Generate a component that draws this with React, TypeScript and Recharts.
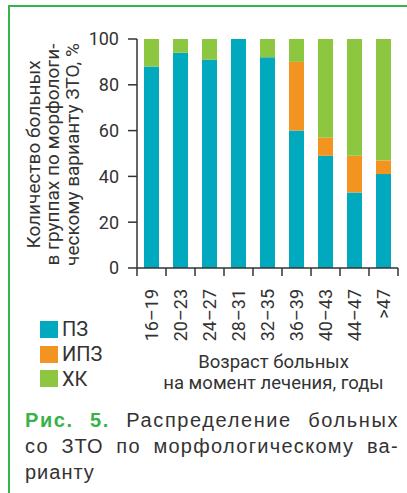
import { BarChart, Bar, XAxis, YAxis, Legend } from "recharts"

const categories = ["16–19", "20–23", "24–27", "28–31", "32–35", "36–39", "40–43", "44–47", ">47"]
const pz = [88, 94, 91, 100, 92, 60, 49, 33, 41]
const ipz = [0, 0, 0, 0, 0, 30, 8, 16, 6]
const hk = [12, 6, 9, 0, 8, 10, 43, 51, 53]
const yTicks = [0, 20, 40, 60, 80, 100]
const edgeTicks = [0, 1, 2, 3, 4, 5, 6, 7, 8, 9]

const seriesNames = ["ПЗ", "ИПЗ", "ХК"]
const yTitle = ["Количество больных", "в группах по морфологи-", "ческому варианту ЗТО, %"]
const xTitle = ["Возраст больных", "на момент лечения, годы"]

const data = categories.map((c, i) => ({ age: c, idx: i, pz: pz[i], ipz: ipz[i], hk: hk[i] }))

const FONT = "Roboto, 'Liberation Sans', sans-serif"
const TEXT = "#333"
const AXIS = "#333"
const GREEN = "#37b34a"

function AgeTick({ x, y, payload }: any) {
  return (
    <text transform={`translate(${x},${y + 13}) rotate(-90)`} textAnchor="end" dy="0.36em"
      fontSize={18} fill={TEXT} fontFamily={FONT}>
      {payload.value}
    </text>
  )
}

function YTitle({ viewBox }: any) {
  const cy = viewBox.y + viewBox.height / 2 + 1
  return (
    <g fontSize={19} fill={TEXT} fontFamily={FONT}>
      {yTitle.map((t, i) => (
        <text key={i} transform={`translate(${39.5 + i * 19.5},${cy}) rotate(-90)`} textAnchor="middle">{t}</text>
      ))}
    </g>
  )
}

function XTitle({ viewBox }: any) {
  const cx = viewBox.x + viewBox.width / 2 + 6
  return (
    <g fontSize={18.5} fill={TEXT} fontFamily={FONT} textAnchor="middle">
      {xTitle.map((t, i) => (
        <text key={i} x={cx} y={268 + 99.5 + i * 21}>{t}</text>
      ))}
    </g>
  )
}

function LegendBox({ payload }: any) {
  const items = [...(payload || [])].sort((a: any, b: any) => seriesNames.indexOf(a.value) - seriesNames.indexOf(b.value))
  return (
    <div style={{ fontFamily: FONT, fontSize: 20, color: TEXT }}>
      {items.map((p: any, i: number) => (
        <div key={i} style={{ display: "flex", alignItems: "center", height: 24.7 }}>
          <span style={{ width: 18, height: 17, background: p.color, marginRight: 4 }} />
          <span>{p.value}</span>
        </div>
      ))}
    </div>
  )
}

export default function App() {
  return (
    <div style={{ position: "absolute", left: 0, top: 0, width: 407, height: 493, background: "#fff", overflow: "hidden" }}>
      <div style={{ position: "absolute", left: 8, top: 5, width: 420, height: 500, borderTop: `2px solid ${GREEN}`, borderLeft: `2px solid ${GREEN}` }} />
      <div style={{ position: "absolute", left: 0, top: 0 }}>
        <BarChart width={407} height={493} data={data} margin={{ top: 39, right: 9, left: 0, bottom: 225 }} barSize={15}>
          <XAxis xAxisId="edge" type="number" dataKey="idx" domain={[0, 9]} ticks={edgeTicks} allowDataOverflow
            height={0.01} tickSize={8} tick={() => <g />} axisLine={{ stroke: AXIS, strokeWidth: 1.5 }}
            tickLine={{ stroke: AXIS, strokeWidth: 1.5 }} />
          <XAxis xAxisId="cat" dataKey="age" height={0.01} axisLine={false} tickLine={false} interval={0}
            tick={<AgeTick />} label={{ content: (p: any) => <XTitle {...p} /> }} />
          <YAxis width={137} domain={[0, 100]} ticks={yTicks} tickSize={9} tickMargin={9}
            axisLine={{ stroke: AXIS, strokeWidth: 1.5 }} tickLine={{ stroke: AXIS, strokeWidth: 1.5 }}
            tick={{ fontSize: 18, fill: TEXT, fontFamily: FONT }}
            label={{ content: (p: any) => <YTitle {...p} /> }} />
          <Legend layout="vertical" align="center" verticalAlign="middle"
            wrapperStyle={{ left: 40, top: 317 }} content={<LegendBox />} />
          <Bar xAxisId="cat" dataKey="pz" name={seriesNames[0]} stackId="a" fill="#00a9bd" isAnimationActive={false} />
          <Bar xAxisId="cat" dataKey="ipz" name={seriesNames[1]} stackId="a" fill="#f39320" isAnimationActive={false} />
          <Bar xAxisId="cat" dataKey="hk" name={seriesNames[2]} stackId="a" fill="#8dc63f" isAnimationActive={false} />
        </BarChart>
      </div>
      <div style={{ position: "absolute", left: 25, top: 406.5, width: 374, fontFamily: "'Liberation Sans', Arial, sans-serif", fontSize: 20, lineHeight: "26px", color: TEXT, whiteSpace: "nowrap" }}>
        <div style={{ textAlign: "justify", textAlignLast: "justify", letterSpacing: 1.6 }}>
          <b style={{ color: GREEN }}>Рис. 5.</b> Распределение больных
        </div>
        <div style={{ textAlign: "justify", textAlignLast: "justify", letterSpacing: 1.3 }}>со ЗТО по морфологическому ва-</div>
        <div style={{ letterSpacing: 1 }}>рианту</div>
      </div>
    </div>
  )
}
